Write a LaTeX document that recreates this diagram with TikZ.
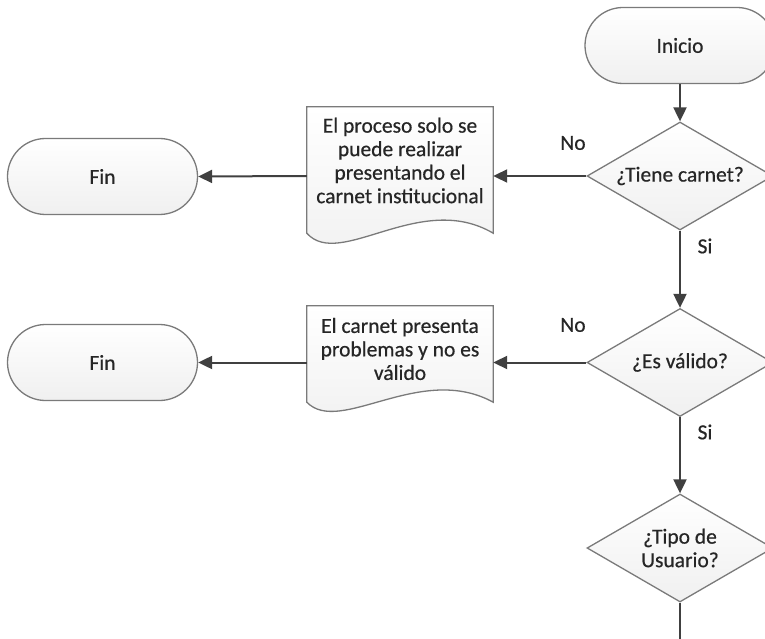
\documentclass[tikz,border=0pt]{standalone}
\usepackage{fontspec}
\setmainfont{Carlito}
\newfontfamily\flowfont{Carlito}[FakeBold=0.5]
\usetikzlibrary{shapes.geometric,shapes.misc,arrows.meta,calc}
\definecolor{edgegray}{HTML}{7A7A7A}
\definecolor{flowgray}{HTML}{404040}
\definecolor{textgray}{HTML}{262626}
\begin{document}
\begin{tikzpicture}[x=1pt,y=-1pt,
  base/.style={font=\flowfont\fontsize{21.5}{23.5}\selectfont, text=textgray},
  fillshade/.style={top color=white, bottom color=black!6},
  outline/.style={draw=edgegray, line width=1.3pt},
  terminal/.style={base, rounded rectangle, outline, fillshade,
    minimum width=190pt, minimum height=76pt, inner sep=0pt},
  decision/.style={base, diamond, outline, fillshade, shape aspect=1.72,
    minimum width=186pt, minimum height=108pt, inner sep=0pt, align=center},
  docframe/.style={rectangle, draw=none, minimum width=186pt, inner sep=0pt},
  doctext/.style={base, align=center},
  flow/.style={draw=flowgray, line width=2pt, -{Triangle[length=14pt,width=13pt]}},
  plainflow/.style={draw=flowgray, line width=2pt},
  branch/.style={base}
]
\clip (0,0) rectangle (765,639);

% main column
\node[terminal] (inicio) at (680,45.5) {Inicio};
\node[decision] (d1) at (680,176) {¿Tiene carnet?};
\node[decision] (d2) at (680,362.5) {¿Es válido?};
\node[decision] (d3) at (680,548) {¿Tipo de\\Usuario?};
\coordinate (down) at (680,660);

% document boxes with wavy bottom
\node[docframe, minimum height=126pt] (doc1) at (400,170) {};
\path[outline, fillshade] (doc1.south west) -- (doc1.north west) -- (doc1.north east)
  -- (doc1.south east) .. controls +(-73,-43) and +(33,37) .. (doc1.south west) -- cycle;
\node[doctext] (doc1text) at (400,160.5)
  {El proceso solo se\\puede realizar\\presentando el\\carnet institucional};

\node[docframe, minimum height=96pt] (doc2) at (400,354) {};
\path[outline, fillshade] (doc2.south west) -- (doc2.north west) -- (doc2.north east)
  -- (doc2.south east) .. controls +(-73,-40) and +(33,34) .. (doc2.south west) -- cycle;
\node[doctext] (doc2text) at (400,349)
  {El carnet presenta\\problemas y no es\\válido};

% end terminals
\node[terminal] (fin1) at (102.5,176.5) {Fin};
\node[terminal] (fin2) at (102.5,362.5) {Fin};

% connectors
\draw[flow] (inicio.south) -- (d1.north);
\draw[flow] (d1.south) -- (d2.north);
\draw[flow] (d2.south) -- (d3.north);
\draw[plainflow] (d3.south) -- (down);
\draw[flow] (d1.west) -- (d1.west -| doc1.east);
\draw[flow] (d1.west -| doc1.west) -- (fin1.east);
\draw[flow] (d2.west) -- (d2.west -| doc2.east);
\draw[flow] (d2.west -| doc2.west) -- (fin2.east);

% branch labels
\node[branch] (no1) at (573,143) {No};
\node[branch] (si1) at (705,246) {Si};
\node[branch] (no2) at (573,325) {No};
\node[branch] (si2) at (705,432) {Si};
\end{tikzpicture}
\end{document}
